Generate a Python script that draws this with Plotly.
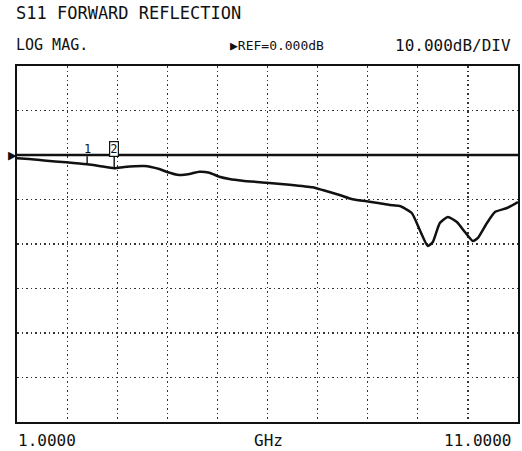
import plotly.graph_objects as go

# ---- data ----
freq_ghz = [1.00, 1.24, 1.54, 1.98, 2.40, 2.64, 2.94, 3.14, 3.54, 3.84, 3.98, 4.24,
            4.44, 4.64, 4.84, 5.04, 5.24, 5.50, 5.98, 6.44, 6.90, 7.10, 7.44, 7.70,
            8.04, 8.24, 8.44, 8.64, 8.88, 9.04, 9.20, 9.30, 9.44, 9.60, 9.78, 9.94,
            10.10, 10.20, 10.38, 10.54, 10.78, 11.00]
s11_db = [-0.74, -0.90, -1.24, -1.64, -2.09, -2.47, -2.99, -2.70, -2.47, -3.15, -3.75, -4.49,
          -4.27, -3.75, -3.98, -4.88, -5.39, -5.78, -6.22, -6.67, -7.26, -7.87, -8.99, -9.96,
          -10.49, -10.85, -11.24, -11.46, -13.03, -16.85, -20.45, -19.55, -15.28, -13.93, -15.06, -17.30,
          -19.33, -18.65, -15.28, -12.81, -11.91, -10.56]

start_ghz = 1.0
stop_ghz = 11.0
ref_db = 0.0
db_per_div = 10.0
y_top = 20.0
y_bottom = -60.0

marker_ids = ["1", "2"]
marker_freqs = [2.40, 2.94]
marker_vals = [-2.09, -2.99]

title_text = "S11 FORWARD REFLECTION"
fmt_text = "LOG MAG."
ref_text = "\u25b6REF=0.000dB"
scale_text = "10.000dB/DIV"
start_text = "1.0000"
stop_text = "11.0000"
unit_text = "GHz"

FONT = "DejaVu Sans Mono"
ink = "#111111"

fig = go.Figure()

# reference line
fig.add_trace(go.Scatter(x=[start_ghz, stop_ghz], y=[ref_db, ref_db], mode="lines",
                         line=dict(color=ink, width=2.6), hoverinfo="skip"))
# measured trace
fig.add_trace(go.Scatter(x=freq_ghz, y=s11_db, mode="lines",
                         line=dict(color=ink, width=2.5, shape="spline", smoothing=0.5),
                         hoverinfo="skip"))

annos = []
# reference pointer
annos.append(dict(x=start_ghz, y=ref_db, xref="x", yref="y", text="\u25b6", showarrow=False,
                  xanchor="right", yanchor="middle", xshift=2, font=dict(family=FONT, size=15, color=ink)))
# markers
for mid, mf, mv in zip(marker_ids, marker_freqs, marker_vals):
    boxed = mid == "2"
    annos.append(dict(x=mf, y=mv, xref="x", yref="y", text=mid, showarrow=True, arrowhead=0,
                      arrowwidth=1.4, arrowcolor=ink, ax=0, ay=-19 if boxed else -15,
                      font=dict(family=FONT, size=12, color=ink),
                      bordercolor=ink if boxed else "rgba(0,0,0,0)", borderwidth=1.2 if boxed else 0,
                      borderpad=0, bgcolor="white" if boxed else "rgba(0,0,0,0)"))

def px_x(p):
    return (p - 17) / 501.0

def px_y(p):
    return (422 - p) / 356.0

def txt(size):
    return dict(family=FONT, size=size, color=ink)

annos += [
    dict(x=px_x(14), y=px_y(13), xref="paper", yref="paper", text=title_text, showarrow=False,
         xanchor="left", yanchor="middle", font=txt(17)),
    dict(x=px_x(14), y=px_y(45), xref="paper", yref="paper", text=fmt_text, showarrow=False,
         xanchor="left", yanchor="middle", font=txt(15)),
    dict(x=px_x(228), y=px_y(45), xref="paper", yref="paper", text=ref_text, showarrow=False,
         xanchor="left", yanchor="middle", font=txt(13)),
    dict(x=px_x(513), y=px_y(45), xref="paper", yref="paper", text=scale_text, showarrow=False,
         xanchor="right", yanchor="middle", font=txt(16)),
    dict(x=px_x(16), y=px_y(440), xref="paper", yref="paper", text=start_text, showarrow=False,
         xanchor="left", yanchor="middle", font=txt(16)),
    dict(x=px_x(268), y=px_y(440), xref="paper", yref="paper", text=unit_text, showarrow=False,
         xanchor="center", yanchor="middle", font=txt(16)),
    dict(x=px_x(513), y=px_y(440), xref="paper", yref="paper", text=stop_text, showarrow=False,
         xanchor="right", yanchor="middle", font=txt(16)),
]

axis_common = dict(showgrid=True, gridcolor="#333333", gridwidth=1.2, griddash="1.5px,3px",
                   showticklabels=False, ticks="", zeroline=False, showline=True, mirror=True,
                   linecolor=ink, linewidth=2)

fig.update_layout(
    width=522, height=451,
    margin=dict(l=17, r=4, t=66, b=29, autoexpand=False),
    paper_bgcolor="white", plot_bgcolor="white",
    showlegend=False,
    xaxis=dict(range=[start_ghz, stop_ghz], tick0=start_ghz, dtick=(stop_ghz - start_ghz) / 10, **axis_common),
    yaxis=dict(range=[y_bottom, y_top], tick0=y_bottom, dtick=db_per_div, **axis_common),
    annotations=annos,
)

fig.write_html("out.html",
               config={"displayModeBar": False, "staticPlot": True},
               post_script="document.body.style.margin='0px';document.body.style.overflow='hidden';")
